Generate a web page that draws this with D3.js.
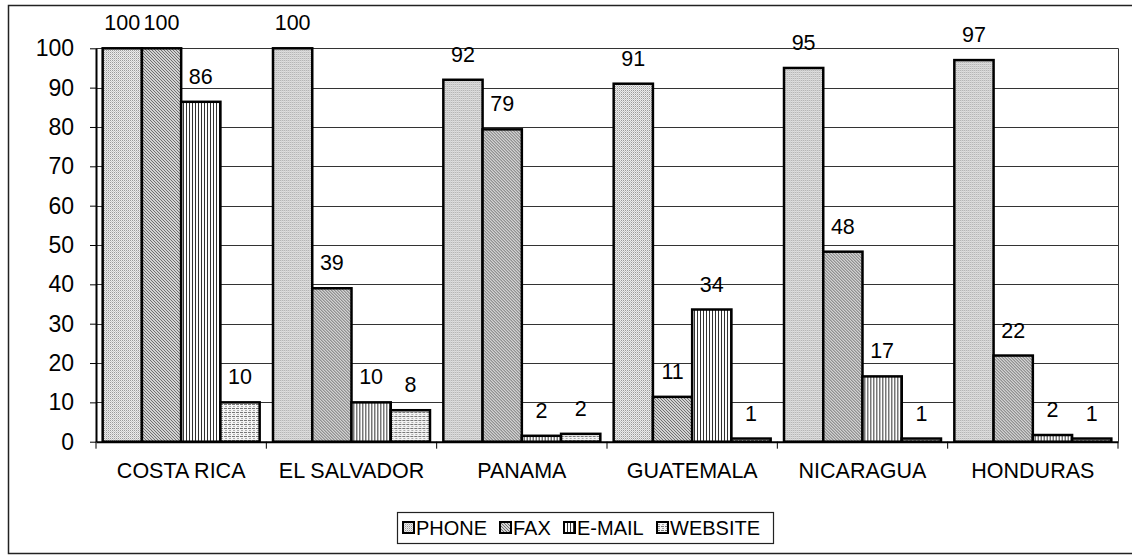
<!DOCTYPE html>
<html>
<head>
<meta charset="utf-8">
<script src="https://cdn.jsdelivr.net/npm/d3@7"></script>
<style>
  html, body { margin: 0; padding: 0; background: #fff; }
  svg { display: block; font-family: "Liberation Sans", Arial, sans-serif; }
</style>
</head>
<body>
<div id="chart"></div>
<script>
const categories = ["COSTA RICA", "EL SALVADOR", "PANAMA", "GUATEMALA", "NICARAGUA", "HONDURAS"];
const seriesNames = ["PHONE", "FAX", "E-MAIL", "WEBSITE"];
const phone = [100, 100, 92, 91, 95, 97];
const fax = [100, 39, 79.4, 11.4, 48.3, 21.9];
const email = [86.4, 10, 1.5, 33.6, 16.6, 1.7];
const website = [10, 8, 2, 0.8, 0.8, 0.8];
const yTicks = [0, 10, 20, 30, 40, 50, 60, 70, 80, 90, 100];

const seriesValues = [phone, fax, email, website];
const width = 1132, height = 555;
const margin = { top: 48.3, right: 14, bottom: 113.3, left: 96 };
const fontSize = 21.5;

const svg = d3.select("#chart").append("svg")
  .attr("width", width)
  .attr("height", height);

// fill patterns
const defs = svg.append("defs");
const pPhone = defs.append("pattern").attr("id", "pat0")
  .attr("patternUnits", "userSpaceOnUse").attr("width", 2).attr("height", 2);
pPhone.append("rect").attr("width", 2).attr("height", 2).attr("fill", "#ececec");
pPhone.append("rect").attr("width", 1).attr("height", 1).attr("fill", "#9a9a9a");
pPhone.append("rect").attr("x", 1).attr("y", 1).attr("width", 1).attr("height", 1).attr("fill", "#c8c8c8");

const pFax = defs.append("pattern").attr("id", "pat1")
  .attr("patternUnits", "userSpaceOnUse").attr("width", 3).attr("height", 3);
pFax.append("rect").attr("width", 3).attr("height", 3).attr("fill", "#d2d2d2");
pFax.append("path").attr("d", "M0,0L3,3M-1,2L1,4M2,-1L4,1")
  .attr("stroke", "#707070").attr("stroke-width", 1);

const pMail = defs.append("pattern").attr("id", "pat2")
  .attr("patternUnits", "userSpaceOnUse").attr("width", 3).attr("height", 3);
pMail.append("rect").attr("width", 3).attr("height", 3).attr("fill", "#fff");
pMail.append("rect").attr("width", 1).attr("height", 3).attr("fill", "#333");

const pWeb = defs.append("pattern").attr("id", "pat3")
  .attr("patternUnits", "userSpaceOnUse").attr("width", 4).attr("height", 4);
pWeb.append("rect").attr("width", 4).attr("height", 4).attr("fill", "#f4f4f4");
pWeb.append("rect").attr("width", 3).attr("height", 1).attr("fill", "#777");
pWeb.append("rect").attr("x", 1).attr("y", 2).attr("width", 2).attr("height", 1).attr("fill", "#aaa");

// outer frame
svg.append("rect")
  .attr("x", 8.5).attr("y", 5.5)
  .attr("width", 1130).attr("height", 548)
  .attr("fill", "none").attr("stroke", "#222").attr("stroke-width", 1.5);

const x0 = d3.scaleBand()
  .domain(categories)
  .range([margin.left, width - margin.right])
  .padding(0);
const x1 = d3.scaleBand()
  .domain(seriesNames)
  .range([0, x0.bandwidth()])
  .paddingInner(0)
  .paddingOuter(0.17);
const y = d3.scaleLinear()
  .domain([0, 100])
  .range([height - margin.bottom, margin.top]);

// gridlines
svg.append("g")
  .selectAll("line")
  .data(yTicks.filter(d => d > 0))
  .join("line")
  .attr("x1", margin.left).attr("x2", width - margin.right)
  .attr("y1", d => Math.round(y(d)) + 0.5).attr("y2", d => Math.round(y(d)) + 0.5)
  .attr("stroke", "#333").attr("stroke-width", 1);

// right edge of plot area
svg.append("line")
  .attr("x1", width - margin.right + 0.5).attr("x2", width - margin.right + 0.5)
  .attr("y1", y(100)).attr("y2", y(0))
  .attr("stroke", "#333").attr("stroke-width", 1);

// bars
const groups = svg.append("g")
  .selectAll("g")
  .data(categories)
  .join("g")
  .attr("transform", d => `translate(${x0(d)},0)`);

groups.selectAll("rect")
  .data((c, i) => seriesNames.map((s, j) => ({ s, j, v: seriesValues[j][i] })))
  .join("rect")
  .attr("x", d => x1(d.s))
  .attr("y", d => y(d.v))
  .attr("width", x1.bandwidth())
  .attr("height", d => y(0) - y(d.v))
  .attr("fill", d => `url(#pat${d.j})`)
  .attr("stroke", "#000")
  .attr("stroke-width", 2.5);

groups.selectAll("text")
  .data((c, i) => seriesNames.map((s, j) => ({ s, j, v: seriesValues[j][i] })))
  .join("text")
  .attr("x", d => x1(d.s) + x1.bandwidth() / 2)
  .attr("y", d => y(d.v) - 18)
  .attr("text-anchor", "middle")
  .attr("font-size", fontSize)
  .attr("fill", "#000")
  .text(d => Math.round(d.v));

// y axis
const yAxis = g => g
  .attr("transform", `translate(${margin.left},0)`)
  .call(d3.axisLeft(y).tickValues(yTicks).tickSize(6).tickPadding(16).tickSizeOuter(0))
  .call(g => g.select(".domain").attr("stroke", "#000").attr("stroke-width", 2))
  .call(g => g.selectAll(".tick line").attr("stroke", "#000"))
  .call(g => g.selectAll(".tick text").attr("font-size", 23).attr("fill", "#000")
    .attr("font-family", "Liberation Sans, Arial, sans-serif"));
svg.append("g").call(yAxis);

// x axis
const xAxis = g => g
  .attr("transform", `translate(0,${y(0)})`)
  .call(d3.axisBottom(x0).tickSize(0).tickPadding(21))
  .call(g => g.select(".domain").attr("stroke", "#000").attr("stroke-width", 2))
  .call(g => g.selectAll(".tick text").attr("font-size", fontSize).attr("fill", "#000")
    .attr("font-family", "Liberation Sans, Arial, sans-serif"));
svg.append("g").call(xAxis);

// category boundary ticks
svg.append("g")
  .selectAll("line")
  .data(categories.concat(["end"]))
  .join("line")
  .attr("x1", (d, i) => margin.left + i * x0.step())
  .attr("x2", (d, i) => margin.left + i * x0.step())
  .attr("y1", y(0)).attr("y2", y(0) + 7)
  .attr("stroke", "#000").attr("stroke-width", 1);

// legend
const legend = svg.append("g").attr("transform", "translate(397,512)");
legend.append("rect")
  .attr("x", 0.5).attr("y", 0.5)
  .attr("width", 376).attr("height", 31)
  .attr("fill", "#fff").attr("stroke", "#222").attr("stroke-width", 1.2);
const legendX = [6, 103, 167, 260];
const items = legend.selectAll("g.item")
  .data(seriesNames)
  .join("g")
  .attr("class", "item")
  .attr("transform", (d, i) => `translate(${legendX[i]},10)`);
items.append("rect")
  .attr("width", 11).attr("height", 11)
  .attr("fill", (d, i) => `url(#pat${i})`)
  .attr("stroke", "#000").attr("stroke-width", 2);
items.append("text")
  .attr("x", 13).attr("y", 13)
  .attr("font-size", 20)
  .attr("fill", "#000")
  .text(d => d);
</script>
</body>
</html>
